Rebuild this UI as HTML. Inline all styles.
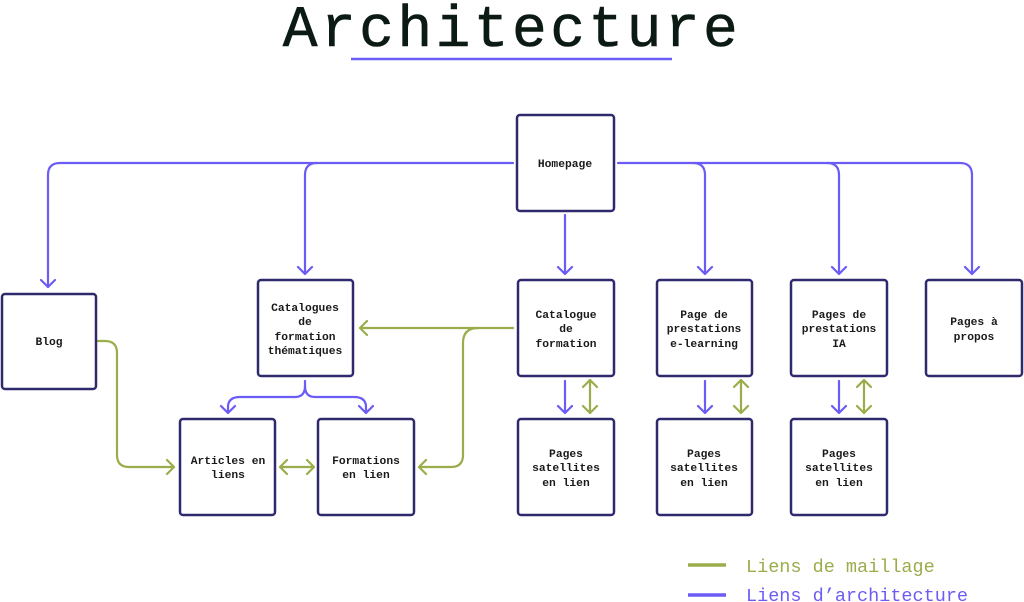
<!DOCTYPE html>
<html><head><meta charset="utf-8"><style>
html,body{margin:0;padding:0;background:#fff;}
svg{display:block}
.b{fill:#fff;stroke:#2f2a6e;stroke-width:2.5}
.t{font-family:"Liberation Mono",monospace;font-weight:bold;font-size:11.3px;fill:#1a1a1a;text-anchor:middle}
.p{fill:none;stroke:#6b5cf5;stroke-width:2.2;stroke-linecap:round;stroke-linejoin:round}
.g{fill:none;stroke:#9aad4b;stroke-width:2.2;stroke-linecap:round;stroke-linejoin:round}
</style></head><body>
<svg width="1024" height="602" viewBox="0 0 1024 602" xmlns="http://www.w3.org/2000/svg">
<text x="512" y="46" text-anchor="middle" font-family="Liberation Mono, monospace" font-size="58" fill="#0c1a14" stroke="#0c1a14" stroke-width="0.6" letter-spacing="3.4">Architecture</text>
<line x1="351" y1="59" x2="672" y2="59" stroke="#6b5cf5" stroke-width="2.5"/>

<path class="p" d="M513 163 H60 Q48 163 48 175 V287 M41 280 L48 287 L55 280"/>
<path class="p" d="M317 163 Q305 163 305 175 V274 M298 267 L305 274 L312 267"/>
<path class="p" d="M618 163 H960 Q972 163 972 175 V274 M965 267 L972 274 L979 267"/>
<path class="p" d="M693 163 Q705 163 705 175 V274 M698 267 L705 274 L712 267"/>
<path class="p" d="M827 163 Q839 163 839 175 V274 M832 267 L839 274 L846 267"/>
<path class="p" d="M565 215 V274 M558 267 L565 274 L572 267"/>
<path class="p" d="M305 381 V386 Q305 397 295 397 H240 Q228 397 228 407 V413 M221 406 L228 413 L235 406"/>
<path class="p" d="M305 386 Q305 397 315 397 H354 Q366 397 366 407 V413 M359 406 L366 413 L373 406"/>
<path class="p" d="M565 381 V413 M558 406 L565 413 L572 406"/>
<path class="p" d="M705 381 V413 M698 406 L705 413 L712 406"/>
<path class="p" d="M839 381 V413 M832 406 L839 413 L846 406"/>

<path class="g" d="M513 328 H360 M367 321 L360 328 L367 335"/>
<path class="g" d="M478 328 Q463 328 463 343 V455 Q463 467 451 467 H419 M426 460 L419 467 L426 474"/>
<path class="g" d="M86 341 H105 Q117 341 117 353 V455 Q117 467 129 467 H174 M167 460 L174 467 L167 474"/>
<path class="g" d="M280 467 H314 M287 460 L280 467 L287 474 M307 460 L314 467 L307 474"/>
<path class="g" d="M590 380 V413 M583 387 L590 380 L597 387 M583 406 L590 413 L597 406"/>
<path class="g" d="M741 380 V413 M734 387 L741 380 L748 387 M734 406 L741 413 L748 406"/>
<path class="g" d="M864 380 V413 M857 387 L864 380 L871 387 M857 406 L864 413 L871 406"/>

<rect class="b" x="517" y="115" width="97" height="96" rx="3"/>
<rect class="b" x="2" y="294" width="94" height="95" rx="3"/>
<rect class="b" x="258" y="280" width="95" height="96" rx="3"/>
<rect class="b" x="518" y="280" width="96" height="96" rx="3"/>
<rect class="b" x="657" y="280" width="95" height="96" rx="3"/>
<rect class="b" x="791" y="280" width="96" height="96" rx="3"/>
<rect class="b" x="926" y="280" width="96" height="96" rx="3"/>
<rect class="b" x="180" y="419" width="95" height="96" rx="3"/>
<rect class="b" x="318" y="419" width="96" height="96" rx="3"/>
<rect class="b" x="518" y="419" width="96" height="96" rx="3"/>
<rect class="b" x="657" y="419" width="95" height="96" rx="3"/>
<rect class="b" x="791" y="419" width="96" height="96" rx="3"/>

<text class="t" x="565" y="167">Homepage</text>
<text class="t" x="49" y="345">Blog</text>
<text class="t" x="305" y="311">Catalogues</text>
<text class="t" x="305" y="325">de</text>
<text class="t" x="305" y="340">formation</text>
<text class="t" x="305" y="354">thématiques</text>
<text class="t" x="566" y="318">Catalogue</text>
<text class="t" x="566" y="332">de</text>
<text class="t" x="566" y="347">formation</text>
<text class="t" x="704" y="318">Page de</text>
<text class="t" x="704" y="332">prestations</text>
<text class="t" x="704" y="347">e-learning</text>
<text class="t" x="839" y="318">Pages de</text>
<text class="t" x="839" y="332">prestations</text>
<text class="t" x="839" y="347">IA</text>
<text class="t" x="974" y="325">Pages à</text>
<text class="t" x="974" y="340">propos</text>
<text class="t" x="228" y="464">Articles en</text>
<text class="t" x="228" y="478">liens</text>
<text class="t" x="366" y="464">Formations</text>
<text class="t" x="366" y="478">en lien</text>
<text class="t" x="566" y="457">Pages</text>
<text class="t" x="566" y="471">satellites</text>
<text class="t" x="566" y="486">en lien</text>
<text class="t" x="704" y="457">Pages</text>
<text class="t" x="704" y="471">satellites</text>
<text class="t" x="704" y="486">en lien</text>
<text class="t" x="839" y="457">Pages</text>
<text class="t" x="839" y="471">satellites</text>
<text class="t" x="839" y="486">en lien</text>

<line x1="688" y1="565" x2="726" y2="565" stroke="#9aad4b" stroke-width="3.5"/>
<line x1="688" y1="595" x2="726" y2="595" stroke="#6b5cf5" stroke-width="3.5"/>
<text x="746" y="572" font-family="Liberation Mono, monospace" font-size="18.5" fill="#9aad4b">Liens de maillage</text>
<text x="746" y="601" font-family="Liberation Mono, monospace" font-size="18.5" fill="#6b5cf5">Liens d’architecture</text>
</svg>
</body></html>
